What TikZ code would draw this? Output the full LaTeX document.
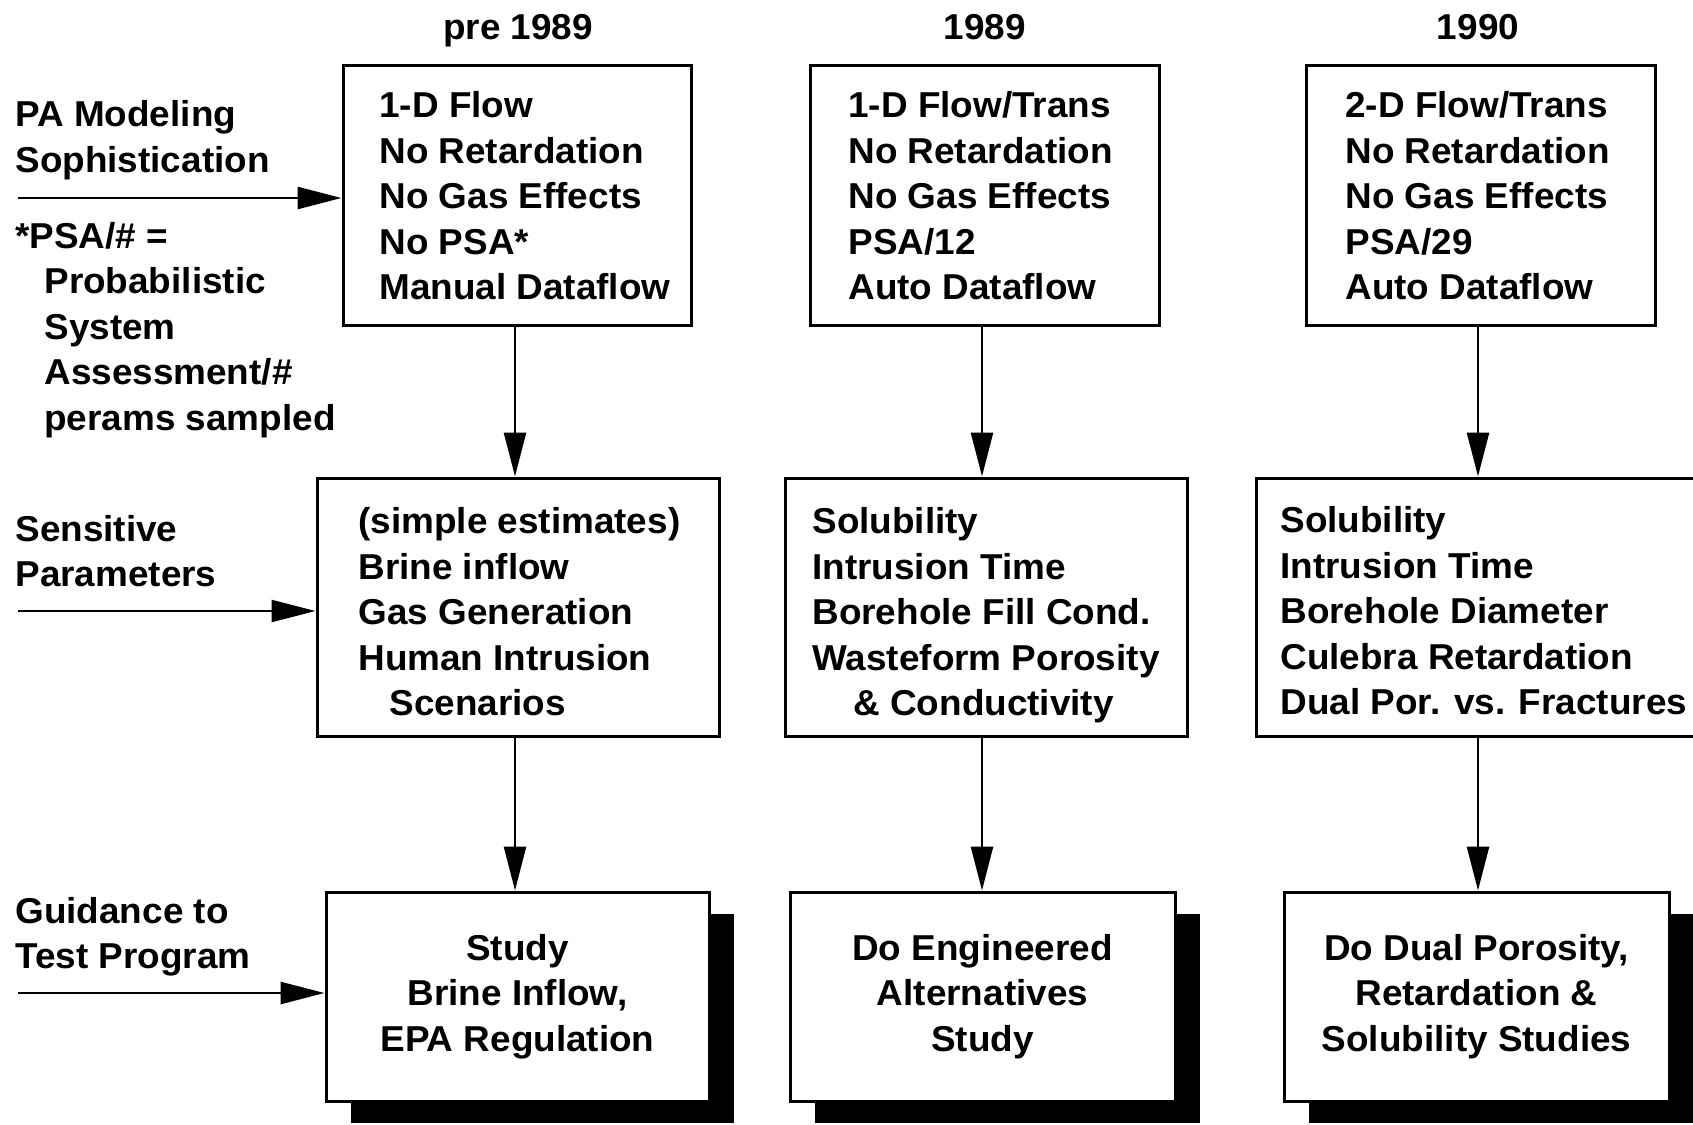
\documentclass[tikz,border=0pt]{standalone}
\usepackage{fontspec}
\setmainfont{Liberation Sans}[FakeStretch=1.025]
\usetikzlibrary{arrows.meta,shadows}
\begin{document}
\begin{tikzpicture}[x=0.5pt,y=-0.5pt,
  every node/.style={font=\fontsize{18}{22.75}\selectfont\bfseries, inner sep=0pt},
  box/.style={draw, line width=1.5pt, fill=white},
  sbox/.style={box, align=center,
    general shadow={fill=black, shadow xshift=12.5pt, shadow yshift=-11pt}},
  lbl/.style={align=left, anchor=west,
    execute at begin node=\strut, execute at end node=\strut},
  head/.style={anchor=base},
  arr/.style={line width=1.3pt, -{Triangle[length=22pt,width=11pt]}},
]
\useasboundingbox (0,0) rectangle (1693,1125);
\clip (0,0) rectangle (1693,1125);

% column headings
\node[head] (h1) at (518,39.5) {pre 1989};
\node[head] (h2) at (985,39.5) {1989};
\node[head] (h3) at (1478,39.5) {1990};

% row 1: modeling sophistication
\node[box, minimum width=174pt, minimum height=130pt] (b11) at (517,195) {};
\node[box, minimum width=174.5pt, minimum height=130pt] (b12) at (984.5,195) {};
\node[box, minimum width=174.5pt, minimum height=130pt] (b13) at (1480.5,195) {};
\node[lbl] (t11) at (379,202.5) {1-D Flow\\No Retardation\\No Gas Effects\\No PSA*\\Manual Dataflow};
\node[lbl] (t12) at (848,202.5) {1-D Flow/Trans\\No Retardation\\No Gas Effects\\PSA/12\\Auto Dataflow};
\node[lbl] (t13) at (1345,202.5) {2-D Flow/Trans\\No Retardation\\No Gas Effects\\PSA/29\\Auto Dataflow};

% row 2: sensitive parameters
\node[box, minimum width=201pt, minimum height=129pt] (b21) at (518,607) {};
\node[box, minimum width=201pt, minimum height=129pt] (b22) at (986,607) {};
\node[box, minimum width=227pt, minimum height=129pt] (b23) at (1483,607) {};
\node[lbl] (t21) at (358,618.5) {(simple estimates)\\Brine inflow\\Gas Generation\\Human Intrusion\\\hspace*{15.5pt}Scenarios};
\node[lbl] (t22) at (812,618.5) {Solubility\\Intrusion Time\\Borehole Fill Cond.\\Wasteform Porosity\\\hspace*{20.5pt}\& Conductivity};
\node[lbl] (t23) at (1280,617.5) {Solubility\\Intrusion Time\\Borehole Diameter\\Culebra Retardation\\Dual Por. vs. Fractures};

% row 3: guidance to test program
\node[sbox, minimum width=191.5pt, minimum height=104.5pt] (b31) at (517.5,996.5) {Study\\Brine Inflow,\\EPA Regulation};
\node[sbox, minimum width=192.5pt, minimum height=104.5pt] (b32) at (982.5,996.5) {Do Engineered\\Alternatives\\Study};
\node[sbox, minimum width=192.5pt, minimum height=104.5pt] (b33) at (1476.5,996.5) {Do Dual Porosity,\\Retardation \&\\Solubility Studies};

% row labels
\node[lbl] (l1) at (15,143.5) {PA Modeling\\Sophistication};
\node[lbl] (l2) at (15,333) {*PSA/\# =\\\hspace*{14.5pt}Probabilistic\\\hspace*{14.5pt}System\\\hspace*{14.5pt}Assessment/\#\\\hspace*{14.5pt}perams sampled};
\node[lbl] (l3) at (15,558) {Sensitive\\Parameters};
\node[lbl] (l4) at (15,940) {Guidance to\\Test Program};

% incoming arrows
\coordinate (s1) at (18,198);
\coordinate (s2) at (18,611);
\coordinate (s3) at (18,993);
\draw[arr] (s1) -- (s1 -| b11.west);
\draw[arr] (s2) -- (s2 -| b21.west);
\draw[arr] (s3) -- (s3 -| b31.west);

% downward arrows
\coordinate (c1) at (515,0);
\coordinate (c2) at (982,0);
\coordinate (c3) at (1478,0);
\draw[arr] (c1 |- b11.south) -- (c1 |- b21.north);
\draw[arr] (c2 |- b12.south) -- (c2 |- b22.north);
\draw[arr] (c3 |- b13.south) -- (c3 |- b23.north);
\draw[arr] (c1 |- b21.south) -- (c1 |- b31.north);
\draw[arr] (c2 |- b22.south) -- (c2 |- b32.north);
\draw[arr] (c3 |- b23.south) -- (c3 |- b33.north);
\end{tikzpicture}
\end{document}
